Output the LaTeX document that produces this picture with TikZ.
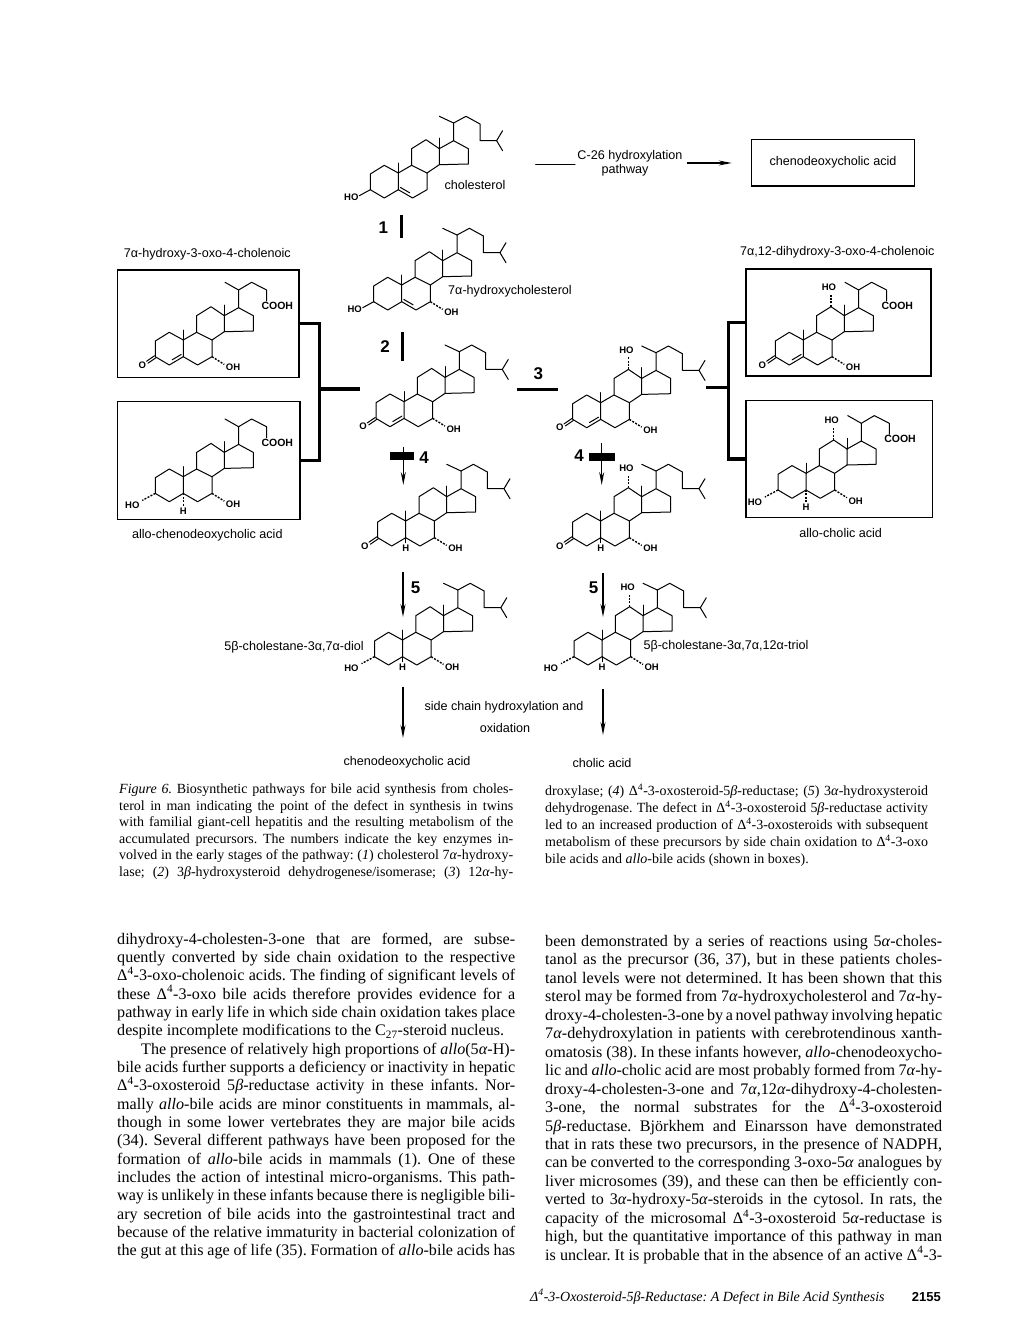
\documentclass[tikz,border=0pt]{standalone}
\usepackage{fontspec}
\setmainfont{Liberation Serif}
\newfontfamily\labelfont{Liberation Sans}
\usetikzlibrary{calc,arrows.meta}
\frenchspacing
\newcommand{\alp}{\textit{α}}
\newcommand{\bet}{\textit{β}}
\newcommand{\dlt}{Δ\textsuperscript{4}}
\newcommand{\textline}[1]{\hbox to \hsize{#1}}
\tikzset{
  x=1pt,y=-1pt,
  bond/.style={line width=1pt,line cap=round,line join=round},
  hashbond/.style={line width=1.4pt,dash pattern=on 2pt off 1.4pt},
  atom/.style={font=\labelfont\bfseries\fontsize{9.5}{10}\selectfont,inner sep=0pt},
  lbl/.style={font=\labelfont\fontsize{12.6}{14}\selectfont,inner sep=0pt},
  stepnum/.style={font=\labelfont\bfseries\fontsize{17}{18}\selectfont,inner sep=0pt},
  molbox/.style={draw,line width=1.3pt,inner sep=0pt,outer sep=0pt},
  thickbar/.style={line width=3pt},
  bracket/.style={line width=3.6pt,line join=miter},
  rxn/.style={line width=1.1pt,-{Stealth[length=13pt,width=5pt]}},
  para/.style={anchor=north west,inner sep=0pt,align=none},
  pics/steroid/.style={code={
    \coordinate (-c10) at (0,0);
    \coordinate (-c1) at (-14,-7.7);
    \coordinate (-c2) at (-28,1);
    \coordinate (-c3) at (-28,16.7);
    \coordinate (-c4) at (-14,25);
    \coordinate (-c5) at (0,16.7);
    \coordinate (-c6) at (14.3,25);
    \coordinate (-c7) at (28.7,16.7);
    \coordinate (-c8) at (28.7,0);
    \coordinate (-c9) at (13.3,-7.7);
    \coordinate (-c11) at (13.3,-24.3);
    \coordinate (-c12) at (27.7,-33.3);
    \coordinate (-c13) at (41,-24.3);
    \coordinate (-c14) at (41,-8.3);
    \coordinate (-c15) at (70,-9);
    \coordinate (-c16) at (70,-24.3);
    \coordinate (-c17) at (55.3,-32.3);
    \draw[bond] (-c10)--(-c1)--(-c2)--(-c3)--(-c4)--(-c5)--cycle;
    \draw[bond] (-c5)--(-c6)--(-c7)--(-c8)--(-c9)--(-c10);
    \draw[bond] (-c9)--(-c11)--(-c12)--(-c13)--(-c14)--(-c8);
    \draw[bond] (-c14)--(-c15)--(-c16)--(-c17)--(-c13);
    \draw[bond] (-c10)--(0,-10);
    \draw[bond] (-c13)--(41,-35);
  }},
  pics/cholchain/.style={code={
    \draw[bond] (55.3,-32.3)--(55.3,-50)--(41,-56.7);
    \draw[bond] (55.3,-50)--(67.7,-56.7)--(81.7,-49)--(81.7,-32.3)--(98.3,-32.3)--(104.3,-42.3);
    \draw[bond] (98.3,-32.3)--(104.3,-22.3);
  }},
  pics/acidchain/.style={code={
    \draw[bond] (55.3,-32.3)--(55.3,-50)--(41.7,-57.7);
    \draw[bond] (55.3,-50)--(68.3,-57.7)--(83.3,-50)--(83.3,-39);
  }},
}
% molecule name, x, y
\newcommand{\chol}[3]{\pic (#1) at (#2,#3) {steroid}; \pic at (#2,#3) {cholchain};}
\newcommand{\acid}[3]{\pic (#1) at (#2,#3) {steroid}; \pic at (#2,#3) {acidchain};
  \node[atom,font=\labelfont\bfseries\fontsize{10.5}{11}\selectfont] (#1-cooh) at (#2+94,#3-34) {COOH};}
\newcommand{\oxo}[1]{
  \draw[bond] ([shift={(.7,1)}]#1-c3)--++(-8,5.5);
  \draw[bond] ([shift={(-.7,-1)}]#1-c3)--++(-8,5.5);
  \node[atom] (#1-o) at ([shift={(-13,8.3)}]#1-c3) {O};}
\newcommand{\enefour}[1]{\draw[bond] ($(#1-c4)!.2!(#1-c5)+(0,-3.5)$)--($(#1-c4)!.85!(#1-c5)+(0,-3.5)$);}
\newcommand{\enefive}[1]{\draw[bond] ($(#1-c5)!.15!(#1-c6)+(0,-3.5)$)--($(#1-c5)!.8!(#1-c6)+(0,-3.5)$);}
\newcommand{\hoplain}[1]{
  \draw[bond] (#1-c3)--++(-11,6);
  \node[atom] (#1-ho) at ([shift={(-19,8)}]#1-c3) {HO};}
\newcommand{\hohash}[1]{
  \draw[hashbond] (#1-c3)--++(-13,7);
  \node[atom] (#1-ho) at ([shift={(-23,12)}]#1-c3) {HO};}
\newcommand{\ohseven}[1]{
  \draw[hashbond] (#1-c7)--++(12.3,7.7);
  \node[atom] (#1-oh) at ([shift={(21,11)}]#1-c7) {OH};}
\newcommand{\hotwelve}[1]{
  \draw[hashbond] (#1-c12)--++(0,-13);
  \node[atom] (#1-ho12) at ([shift={(-2,-19.5)}]#1-c12) {HO};}
\newcommand{\hshort}[1]{
  \draw[bond] (#1-c5)--++(0,5);
  \node[atom] (#1-h) at ([shift={(0,11)}]#1-c5) {H};}
\newcommand{\hlong}[1]{
  \draw[hashbond] (#1-c5)--++(0,13);
  \node[atom] (#1-h) at ([shift={(0,17.5)}]#1-c5) {H};}
\begin{document}
\begin{tikzpicture}
\useasboundingbox (0,0) rectangle (1020,1320);
% boxes and brackets
\node[molbox,minimum width=181.3pt,minimum height=107.3pt] (boxa) at (208.3,323.6) {};
\node[molbox,minimum width=182.7pt,minimum height=118pt] (boxb) at (208.7,460.3) {};
\node[molbox,minimum width=185pt,minimum height=107pt] (boxc) at (838.5,322.5) {};
\node[molbox,minimum width=186.3pt,minimum height=116.6pt] (boxd) at (839.2,459) {};
\node[molbox,minimum width=162.6pt,minimum height=46.7pt] (boxe) at (833,162.6) {};
\coordinate (brl) at (319.3,389);
\coordinate (brr) at (728.3,387.5);
\coordinate (stl) at (360,389);
\coordinate (str) at (706,387.5);
\draw[bracket] (boxa.east) -| (brl) |- (boxb.east);
\draw[bracket] (brl) -- (stl);
\draw[bracket] (boxc.west) -| (brr) |- (boxd.west);
\draw[bracket] (brr) -- (str);
% molecules
\chol{ma}{398.3}{173} \enefive{ma} \hoplain{ma}
\chol{mb}{401.7}{285} \enefive{mb} \hoplain{mb} \ohseven{mb}
\chol{mc}{404}{401.7} \oxo{mc} \enefour{mc} \ohseven{mc}
\chol{md}{600.7}{402.7} \oxo{md} \enefour{md} \ohseven{md} \hotwelve{md}
\chol{me}{405.7}{521} \oxo{me} \hshort{me} \ohseven{me}
\chol{mf}{600.7}{521} \oxo{mf} \hshort{mf} \ohseven{mf} \hotwelve{mf}
\chol{mg}{402.5}{640} \hohash{mg} \hshort{mg} \ohseven{mg}
\chol{mh}{602}{640} \hohash{mh} \hshort{mh} \ohseven{mh} \hotwelve{mh}
\acid{aa}{183.3}{340} \oxo{aa} \enefour{aa} \ohseven{aa}
\acid{ab}{183.3}{476.7} \hohash{ab} \hlong{ab} \ohseven{ab}
\acid{ac}{803.3}{340} \oxo{ac} \enefour{ac} \ohseven{ac} \hotwelve{ac}
\acid{ad}{806}{473.3} \hohash{ad} \hlong{ad} \ohseven{ad} \hotwelve{ad}
% labels
\node[lbl] (lchol) at (475,185) {cholesterol};
\node[lbl] (lhchol) at (510,291.7) {7α-hydroxycholesterol};
\node[lbl] (lacida) at (207.3,254) {7α-hydroxy-3-oxo-4-cholenoic};
\node[lbl] (lacidb) at (207.3,535) {allo-chenodeoxycholic acid};
\node[lbl] (lacidc) at (837.3,252.7) {7α,12-dihydroxy-3-oxo-4-cholenoic};
\node[lbl] (lacidd) at (840.7,532.7) {allo-cholic acid};
\node[lbl] (lcdca) at (boxe) {chenodeoxycholic acid};
\node[lbl] (lcta) at (630,156) {C-26 hydroxylation};
\node[lbl] (lctb) at (625,170.7) {pathway};
\node[lbl] (ldiol) at (294,647) {5β-cholestane-3α,7α-diol};
\node[lbl] (ltriol) at (726,646) {5β-cholestane-3α,7α,12α-triol};
\node[lbl] (lsidea) at (504,707.3) {side chain hydroxylation and};
\node[lbl] (lsideb) at (505,727.7) {oxidation};
\node[lbl] (lendl) at (407,762.7) {chenodeoxycholic acid};
\node[lbl] (lendr) at (602,762.7) {cholic acid};
\node[stepnum] (nstepa) at (383.3,228) {1};
\node[stepnum] (nstepb) at (385,347) {2};
\node[stepnum] (nstepc) at (538.3,374) {3};
\node[stepnum] (nstepd) at (424,457.3) {4};
\node[stepnum] (nstepe) at (579,456) {4};
\node[stepnum] (nstepf) at (415.6,588) {5};
\node[stepnum] (nstepg) at (593.5,588) {5};
% connectors
\coordinate (sa1) at (401.7,215); \coordinate (sa2) at (401.7,238);
\coordinate (sb1) at (402.7,331.7); \coordinate (sb2) at (402.7,360.7);
\coordinate (sc1) at (516.7,389.3); \coordinate (sc2) at (558.3,389.3);
\coordinate (bl1) at (390,456); \coordinate (bl2) at (414,456);
\coordinate (br1) at (589.3,456.7); \coordinate (br2) at (615,456.7);
\coordinate (al1) at (403.3,446.7); \coordinate (al2) at (403.3,485);
\coordinate (ar1) at (601.7,443.3); \coordinate (ar2) at (601.7,485);
\coordinate (el1) at (403,571.7); \coordinate (el2) at (403,617);
\coordinate (er1) at (603,573); \coordinate (er2) at (603,617);
\coordinate (fl1) at (403,686.7); \coordinate (fl2) at (403,738);
\coordinate (fr1) at (603,689); \coordinate (fr2) at (603,735);
\coordinate (ca1) at (535.7,164); \coordinate (ca2) at (575,164);
\coordinate (cb1) at (686.7,163); \coordinate (cb2) at (731.7,163);
\draw[thickbar] (sa1) -- (sa2);
\draw[thickbar] (sb1) -- (sb2);
\draw[thickbar] (sc1) -- (sc2);
\draw[line width=8pt] (bl1) -- (bl2);
\draw[line width=8pt] (br1) -- (br2);
\draw[rxn] (al1) -- (al2);
\draw[rxn] (ar1) -- (ar2);
\draw[rxn] (el1) -- (el2);
\draw[rxn] (er1) -- (er2);
\draw[rxn] (fl1) -- (fl2);
\draw[rxn] (fr1) -- (fr2);
\draw[bond] (ca1) -- (ca2);
\draw[rxn] (cb1) -- (cb2);
% caption
\node[para,text width=394pt,font=\fontsize{14}{16.5}\selectfont] (capl) at (119,783.5) {%
\textline{\textit{Figure 6.} Biosynthetic pathways for bile acid synthesis from choles-}
\textline{terol in man indicating the point of the defect in synthesis in twins}
\textline{with familial giant-cell hepatitis and the resulting metabolism of the}
\textline{accumulated precursors. The numbers indicate the key enzymes in-}
\textline{volved in the early stages of the pathway: (\textit{1}) cholesterol 7\alp-hydroxy-}
\textline{lase; (\textit{2}) 3\bet-hydroxysteroid dehydrogenese/isomerase; (\textit{3}) 12\alp-hy-}};
\node[para,text width=383pt,font=\fontsize{14}{17}\selectfont] (capr) at (545,784) {%
\textline{droxylase; (\textit{4}) \dlt-3-oxosteroid-5\bet-reductase; (\textit{5}) 3\alp-hydroxysteroid}
\textline{dehydrogenase. The defect in \dlt-3-oxosteroid 5\bet-reductase activity}
\textline{led to an increased production of \dlt-3-oxosteroids with subsequent}
\textline{metabolism of these precursors by side chain oxidation to \dlt-3-oxo}
\textline{bile acids and \textit{allo}-bile acids (shown in boxes).\hfil}};
% body
\node[para,text width=398pt,font=\fontsize{16.1}{18.35}\selectfont] (bodyl) at (117,932.5) {%
\textline{dihydroxy-4-cholesten-3-one that are formed, are subse-}
\textline{quently converted by side chain oxidation to the respective}
\textline{\dlt-3-oxo-cholenoic acids. The finding of significant levels of}
\textline{these \dlt-3-oxo bile acids therefore provides evidence for a}
\textline{pathway in early life in which side chain oxidation takes place}
\textline{despite incomplete modifications to the C\textsubscript{27}-steroid nucleus.\hfil}
\textline{\hskip 24pt The presence of relatively high proportions of \textit{allo}(5\alp-H)-}
\textline{bile acids further supports a deficiency or inactivity in hepatic}
\textline{\dlt-3-oxosteroid 5\bet-reductase activity in these infants. Nor-}
\textline{mally \textit{allo}-bile acids are minor constituents in mammals, al-}
\textline{though in some lower vertebrates they are major bile acids}
\textline{(34). Several different pathways have been proposed for the}
\textline{formation of \textit{allo}-bile acids in mammals (1). One of these}
\textline{includes the action of intestinal micro-organisms. This path-}
\textline{way is unlikely in these infants because there is negligible bili-}
\textline{ary secretion of bile acids into the gastrointestinal tract and}
\textline{because of the relative immaturity in bacterial colonization of}
\textline{the gut at this age of life (35). Formation of \textit{allo}-bile acids has}};
\node[para,text width=397pt,font=\fontsize{16.1}{18.45}\selectfont] (bodyr) at (545,935) {%
\textline{been demonstrated by a series of reactions using 5\alp-choles-}
\textline{tanol as the precursor (36, 37), but in these patients choles-}
\textline{tanol levels were not determined. It has been shown that this}
\textline{sterol may be formed from 7\alp-hydroxycholesterol and 7\alp-hy-}
\textline{droxy-4-cholesten-3-one by a novel pathway involving hepatic}
\textline{7\alp-dehydroxylation in patients with cerebrotendinous xanth-}
\textline{omatosis (38). In these infants however, \textit{allo}-chenodeoxycho-}
\textline{lic and \textit{allo}-cholic acid are most probably formed from 7\alp-hy-}
\textline{droxy-4-cholesten-3-one and 7\alp,12\alp-dihydroxy-4-cholesten-}
\textline{3-one, the normal substrates for the \dlt-3-oxosteroid}
\textline{5\bet-reductase. Björkhem and Einarsson have demonstrated}
\textline{that in rats these two precursors, in the presence of NADPH,}
\textline{can be converted to the corresponding 3-oxo-5\alp\ analogues by}
\textline{liver microsomes (39), and these can then be efficiently con-}
\textline{verted to 3\alp-hydroxy-5\alp-steroids in the cytosol. In rats, the}
\textline{capacity of the microsomal \dlt-3-oxosteroid 5\alp-reductase is}
\textline{high, but the quantitative importance of this pathway in man}
\textline{is unclear. It is probable that in the absence of an active \dlt-3-}};
% footer
\node[anchor=west,inner sep=0pt,font=\itshape\fontsize{14}{16}\selectfont] (runhead) at (530,1296.7) {\dlt-3-Oxosteroid-5β-Reductase: A Defect in Bile Acid Synthesis};
\node[anchor=west,inner sep=0pt,font=\labelfont\bfseries\fontsize{13}{14}\selectfont] (pageno) at (911.7,1297) {2155};
\end{tikzpicture}
\end{document}
